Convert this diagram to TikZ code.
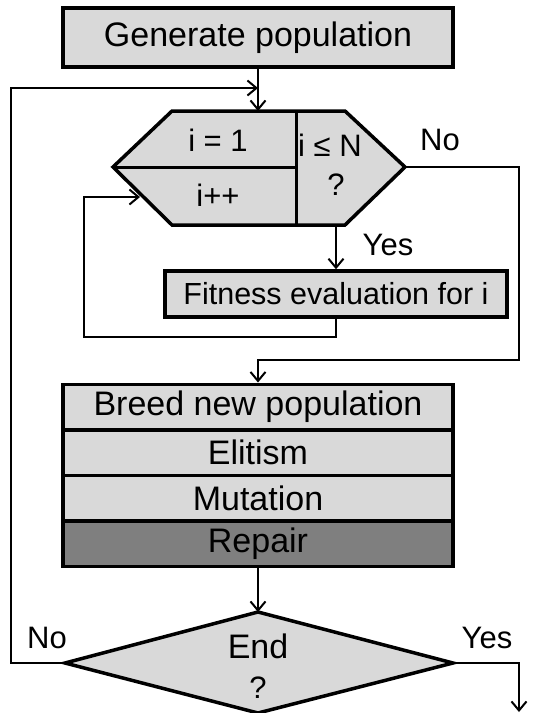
\documentclass[tikz,border=0pt]{standalone}
\usepackage{fontspec}
\setmainfont{Liberation Sans}
\usetikzlibrary{arrows.meta}
\definecolor{lightgrey}{HTML}{D9D9D9}
\definecolor{darkgrey}{HTML}{7F7F7F}
\tikzset{
  box/.style={draw, line width=3.5pt, fill=lightgrey, inner sep=0pt, font=\fontsize{34}{40}\selectfont},
  conn/.style={line width=2pt, -{Straight Barb[length=9pt,width=15pt,line width=2pt]}},
  lbl/.style={font=\fontsize{31}{37}\selectfont}
}

\begin{document}
\begin{tikzpicture}[x=1pt,y=-1pt]
\useasboundingbox (0,0) rectangle (534,713);

% boxes
\node (gen) at (258,37.5) [box, minimum width=390pt, minimum height=59pt] {Generate population};
\node (fit) at (336,294) [box, minimum width=342pt, minimum height=46pt, font=\fontsize{30.5}{36}\selectfont] {Fitness evaluation for i};
\node (breed) at (258,407) [box, minimum width=390pt, minimum height=45.5pt] {Breed new population};
\node (elit) at (258,452.5) [box, minimum width=390pt, minimum height=45.5pt] {Elitism};
\node (mut) at (258,498) [box, minimum width=390pt, minimum height=45.5pt] {Mutation};
\node (rep) at (258,543.5) [box, minimum width=390pt, minimum height=45.5pt, fill=darkgrey] {Repair};

% loop hexagon
\coordinate (hexT) at (258,111);
\coordinate (hexL) at (113,167);
\coordinate (hexR) at (405,167);
\coordinate (hexB) at (336,225);
\coordinate (hexin) at (140,197);
\draw[line width=3.5pt, fill=lightgrey, line join=miter] (172,111) -- (345,111) -- (hexR) -- (345,225) -- (172,225) -- (hexL) -- cycle;
\draw[line width=3pt] (296,111) -- (296,225);
\draw[line width=3pt] (hexL) -- (296,167);
\node (init) at (218,140) [lbl] {i = 1};
\node (incr) at (218,195) [lbl] {i++};
\node (test) at (330,145) [lbl] {i ≤ N};
\node (testq) at (336,185) [lbl] {?};

% end diamond
\coordinate (endT) at (258,612);
\coordinate (endL) at (65,663);
\coordinate (endR) at (453,663);
\draw[line width=3.5pt, fill=lightgrey] (endT) -- (endR) -- (258,713) -- (endL) -- cycle;
\node (endq) at (258,646) [lbl, font=\fontsize{34}{40}\selectfont] {End};
\node (endq2) at (258,688) [lbl] {?};

% labels
\node (hexno) at (440,140) [lbl] {No};
\node (hexyes) at (388,245) [lbl] {Yes};
\node (endno) at (47,638) [lbl] {No};
\node (endyes) at (487,638) [lbl] {Yes};

% connectors
\coordinate (loopA) at (11,88);
\coordinate (noR) at (519,360);
\coordinate (loopB) at (84,337);
\coordinate (exit) at (519,712);
\draw[conn] (gen.south) -- (hexT);
\draw[conn] (endL) -| (loopA) -- (loopA -| gen.south);
\draw[conn] (hexB) -- (fit.north);
\draw[conn] (fit.south) |- (loopB) |- (hexin);
\draw[conn] (hexR) -| (noR) -| (breed.north);
\draw[conn] (rep.south) -- (endT);
\draw[conn] (endR) -| (exit);
\end{tikzpicture}
\end{document}
